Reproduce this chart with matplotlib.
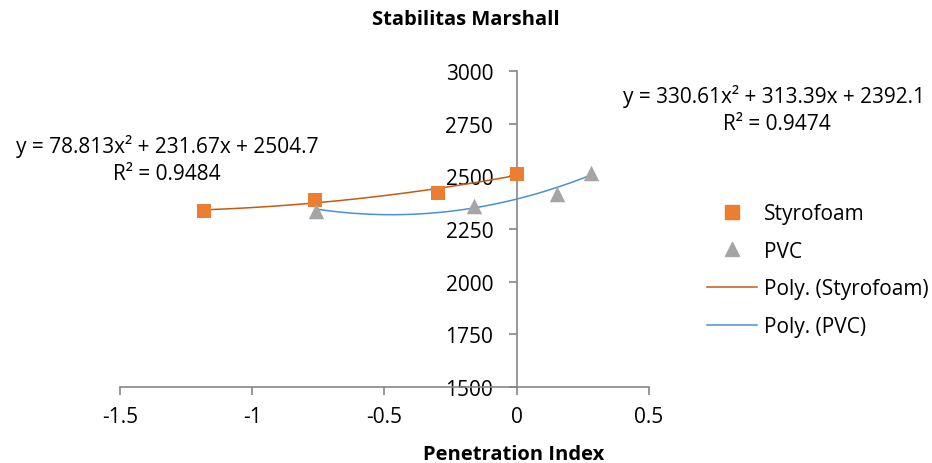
import numpy as np
import matplotlib
matplotlib.use("Agg")
import matplotlib.pyplot as plt
from matplotlib.lines import Line2D

plt.rcParams['font.family'] = ['Open Sans', 'DejaVu Sans']

# Data
styro_x = [-1.184, -0.764, -0.298, 0.0]
styro_y = [2334, 2389, 2419, 2512]
pvc_x = [-0.759, -0.162, 0.152, 0.280]
pvc_y = [2337, 2358, 2416, 2514]

# Trendline coefficients shown on the chart (a, b, c)
styro_coef = [78.813, 231.67, 2504.7]
pvc_coef = [330.61, 313.39, 2392.1]
styro_r2 = "0.9484"
pvc_r2 = "0.9474"

x_ticks = [-1.5, -1, -0.5, 0, 0.5]
x_labels = ["-1.5", "-1", "-0.5", "0", "0.5"]
y_ticks = [1500, 1750, 2000, 2250, 2500, 2750, 3000]

c_styro = "#ED7D31"
c_pvc = "#A5A5A5"
c_styro_line = "#C55A11"
c_pvc_line = "#4A90D4"
axis_col = "#868686"

FS = 15

fig = plt.figure(figsize=(9.32, 4.64), dpi=100)
ax = fig.add_axes([120/932, 1-388/464, (649-120)/932, (388-72)/464])

ax.set_xlim(-1.5, 0.5)
ax.set_ylim(1500, 3000)

ax.scatter(styro_x, styro_y, marker='s', s=108, color=c_styro, zorder=3, linewidths=0)
ax.scatter(pvc_x, pvc_y, marker='^', s=125, color=c_pvc, zorder=3, linewidths=0)

xs = np.linspace(min(styro_x), max(styro_x), 200)
ax.plot(xs, np.polyval(styro_coef, xs), color=c_styro_line, lw=1.1, zorder=2)
xp = np.linspace(min(pvc_x), max(pvc_x), 200)
ax.plot(xp, np.polyval(pvc_coef, xp), color=c_pvc_line, lw=1.1, zorder=2)

for s in ['top', 'right']:
    ax.spines[s].set_visible(False)
ax.spines['left'].set_position(('data', 0))
ax.spines['left'].set_color(axis_col)
ax.spines['bottom'].set_color(axis_col)
ax.spines['left'].set_linewidth(1.2)
ax.spines['bottom'].set_linewidth(1.2)
ax.set_xticks(x_ticks)
ax.set_xticklabels(x_labels)
ax.set_yticks(y_ticks)
ax.set_yticklabels([str(v) for v in y_ticks])
ax.tick_params(axis='both', colors=axis_col, labelcolor='black', labelsize=FS,
               length=6, width=1.2, direction='out')
ax.tick_params(axis='x', pad=8)
ax.tick_params(axis='y', pad=11)
ax.patch.set_alpha(0)

fig.text(466/932, 1-20/464, "Stabilitas Marshall", ha='center', va='center',
         fontsize=14.5, fontweight='bold')
fig.text(514/932, 1-455/464, "Penetration Index", ha='center', va='center',
         fontsize=14.5, fontweight='bold')

fig.text(167/932, 1-147/464, "y = %gx² + %gx + %g" % tuple(styro_coef),
         ha='center', va='center', fontsize=FS)
fig.text(167/932, 1-174/464, "R² = " + styro_r2, ha='center', va='center', fontsize=FS)
fig.text(774/932, 1-97/464, "y = %gx² + %gx + %g" % tuple(pvc_coef),
         ha='center', va='center', fontsize=FS)
fig.text(777/932, 1-125/464, "R² = " + pvc_r2, ha='center', va='center', fontsize=FS)

handles = [
    Line2D([], [], marker='s', ls='none', color=c_styro, markersize=10),
    Line2D([], [], marker='^', ls='none', color=c_pvc, markersize=10),
    Line2D([], [], color=c_styro_line, lw=1.1),
    Line2D([], [], color=c_pvc_line, lw=1.1),
]
labels = ["Styrofoam", "PVC", "Poly. (Styrofoam)", "Poly. (PVC)"]
fig.legend(handles, labels, loc='center left', bbox_to_anchor=(688/932, 1-271/464),
           frameon=False, fontsize=FS, handlelength=2.4, handletextpad=0.33,
           labelspacing=0.8, borderpad=0.4)

fig.savefig("out.png", dpi=100)
